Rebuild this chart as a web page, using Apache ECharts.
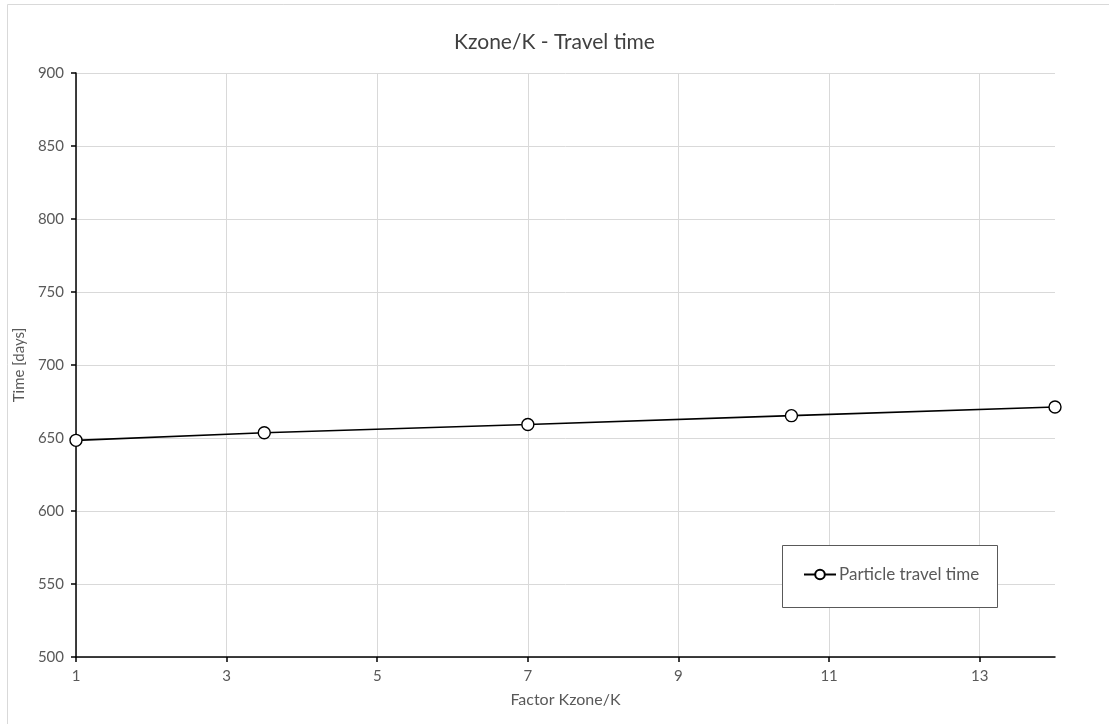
<!DOCTYPE html>
<html>
<head>
<meta charset="utf-8">
<script src="https://cdn.jsdelivr.net/npm/echarts@6/dist/echarts.min.js"></script>
<style>
html,body{margin:0;padding:0;background:#fff;}
#chart{width:1109px;height:724px;}
</style>
</head>
<body>
<div id="chart"></div>
<script>
const titleText = 'Kzone/K - Travel time';
const xName = 'Factor Kzone/K';
const yName = 'Time [days]';
const seriesName = 'Particle travel time';
const factors = [1, 3.5, 7, 10.5, 14];
const travelTimes = [648.4, 653.6, 659.2, 665.3, 671.2];
const xTicks = [1, 3, 5, 7, 9, 11, 13];

const FONT = 'Lato';
const chart = echarts.init(document.getElementById('chart'));
chart.setOption({
  backgroundColor: '#ffffff',
  animation: false,
  textStyle: {fontFamily: FONT},
  title: {
    text: titleText,
    left: 'center',
    top: 27,
    textStyle: {fontFamily: FONT, fontSize: 21, fontWeight: 'normal', color: '#404040'}
  },
  graphic: [{
    type: 'rect',
    shape: {x: 7.5, y: 4.5, width: 1200, height: 800},
    style: {fill: 'none', stroke: '#d9d9d9', lineWidth: 1},
    silent: true,
    z: -10
  }, {
    type: 'rect',
    shape: {x: 782.5, y: 545.5, width: 215, height: 62},
    style: {fill: '#ffffff', stroke: '#595959', lineWidth: 1},
    silent: true,
    z: 5
  }],
  legend: {
    left: 803,
    top: 566,
    itemWidth: 32,
    itemHeight: 12,
    itemGap: 0,
    padding: 0,
    z: 10,
    textStyle: {fontFamily: FONT, fontSize: 17, color: '#595959', padding: [0, 0, 0, -2]},
    data: [seriesName]
  },
  grid: {left: 76, right: 54, top: 73, bottom: 67, containLabel: false},
  xAxis: {
    type: 'value',
    min: 1,
    max: 14,
    name: xName,
    nameLocation: 'middle',
    nameGap: 35,
    nameTextStyle: {fontFamily: FONT, fontSize: 16, color: '#595959'},
    axisLine: {lineStyle: {color: '#000000', width: 1.5}},
    axisTick: {show: true, length: 5, lineStyle: {color: '#000000', width: 1.5}, customValues: xTicks},
    axisLabel: {fontFamily: FONT, fontSize: 15, color: '#595959', margin: 12, customValues: xTicks},
    splitLine: {show: true, lineStyle: {color: '#d9d9d9', width: 1}}
  },
  yAxis: {
    type: 'value',
    min: 500,
    max: 900,
    interval: 50,
    name: yName,
    nameLocation: 'middle',
    nameGap: 48,
    nameTextStyle: {fontFamily: FONT, fontSize: 15, color: '#595959'},
    axisLine: {show: true, lineStyle: {color: '#000000', width: 1.5}},
    axisTick: {show: true, length: 5, lineStyle: {color: '#000000', width: 1.5}},
    axisLabel: {fontFamily: FONT, fontSize: 15, color: '#595959', margin: 12},
    splitLine: {show: true, lineStyle: {color: '#d9d9d9', width: 1}}
  },
  series: [{
    name: seriesName,
    type: 'line',
    data: factors.map((x, i) => [x, travelTimes[i]]),
    symbol: 'circle',
    symbolSize: 12,
    showAllSymbol: true,
    clip: false,
    z: 20,
    lineStyle: {color: '#000000', width: 1.6},
    itemStyle: {color: '#ffffff', borderColor: '#000000', borderWidth: 1.4}
  }]
});
</script>
</body>
</html>
